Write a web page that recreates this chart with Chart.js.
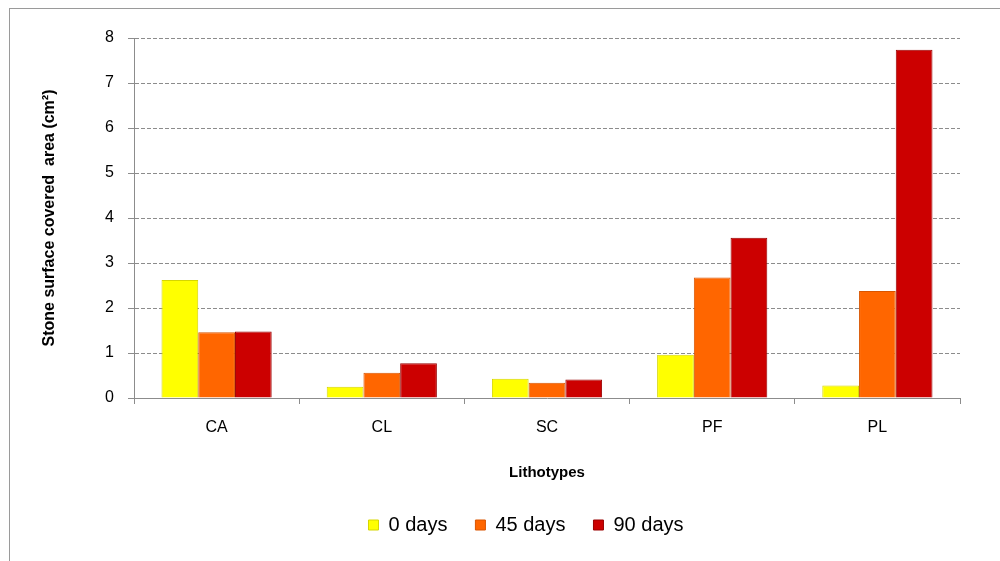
<!DOCTYPE html>
<html>
<head>
<meta charset="utf-8">
<script src="https://cdn.jsdelivr.net/npm/chart.js@4"></script>
<style>
  body { margin: 0; background: #fff; }
  #wrap { position: relative; width: 1000px; height: 561px; overflow: hidden; }
  #frame { position: absolute; left: 9px; top: 8px; width: 1100px; height: 700px;
           border-left: 1px solid #9a9a9a; border-top: 1px solid #9a9a9a; }
  #grafico { position: absolute; left: 0; top: 0; }
</style>
</head>
<body>
<div id="wrap">
  <div id="frame"></div>
  <canvas id="grafico" width="1000" height="561"></canvas>
</div>
<script>
// Dados
var litotipos = ['CA', 'CL', 'SC', 'PF', 'PL'];
var dias0  = [2.62, 0.25, 0.43, 0.96, 0.28];
var dias45 = [1.46, 0.56, 0.34, 2.68, 2.38];
var dias90 = [1.48, 0.77, 0.41, 3.56, 7.74];
var rotulosSeries = ['0 days', '45 days', '90 days'];
var ticksY = [0, 1, 2, 3, 4, 5, 6, 7, 8];

var fonte = '"Liberation Sans", Arial, sans-serif';
var cinza = '#8c8c8c';

var ctx = document.getElementById('grafico');

var myChart = new Chart(ctx, {
    type: 'bar',
    data: {
        labels: litotipos,
        datasets: [
            {
                label: rotulosSeries[0],
                data: dias0,
                backgroundColor: '#ffff00',
                borderColor: '#d6d600',
                borderWidth: 1
            },
            {
                label: rotulosSeries[1],
                data: dias45,
                backgroundColor: '#ff6600',
                borderColor: '#d95500',
                borderWidth: 1
            },
            {
                label: rotulosSeries[2],
                data: dias90,
                backgroundColor: '#cc0000',
                borderColor: '#990000',
                borderWidth: 1
            }
        ]
    },
    options: {
        responsive: false,
        animation: false,
        datasets: {
            bar: {
                categoryPercentage: 0.667,
                barPercentage: 1
            }
        },
        layout: {
            padding: { left: 92, right: 40, top: 38, bottom: 16 }
        },
        scales: {
            x: {
                grid: {
                    drawOnChartArea: false,
                    drawTicks: true,
                    tickLength: 6,
                    tickColor: cinza,
                    color: cinza,
                    offset: true
                },
                border: { color: cinza },
                ticks: {
                    color: '#000',
                    padding: 14,
                    font: { family: fonte, size: 16 }
                },
                title: {
                    display: true,
                    text: 'Lithotypes',
                    color: '#000',
                    padding: { top: 0, bottom: 5 },
                    font: { family: fonte, size: 15, weight: 'bold' }
                },
                afterFit: function (scale) { scale.height = 89; }
            },
            y: {
                min: 0,
                max: 8,
                afterBuildTicks: function (scale) {
                    scale.ticks = ticksY.map(function (v) { return { value: v }; });
                },
                grid: {
                    color: function (c) { return c.tick && c.tick.value === 0 ? 'rgba(0,0,0,0)' : cinza; },
                    tickColor: cinza,
                    tickLength: 6,
                    lineWidth: 1
                },
                border: { color: cinza, dash: [4, 2] },
                ticks: {
                    color: '#000',
                    padding: 14,
                    font: { family: fonte, size: 16 }
                },
                title: {
                    display: true,
                    text: 'Stone surface covered  area (cm²)',
                    color: '#000',
                    padding: { top: -52, bottom: 0 },
                    font: { family: fonte, size: 16, weight: 'bold' }
                },
                afterFit: function (scale) { scale.width = 42; }
            }
        },
        plugins: {
            legend: {
                position: 'bottom',
                labels: {
                    boxWidth: 10,
                    boxHeight: 10,
                    padding: 28,
                    color: '#000',
                    font: { family: fonte, size: 20 }
                }
            },
            tooltip: { enabled: false }
        }
    }
});
</script>
</body>
</html>
